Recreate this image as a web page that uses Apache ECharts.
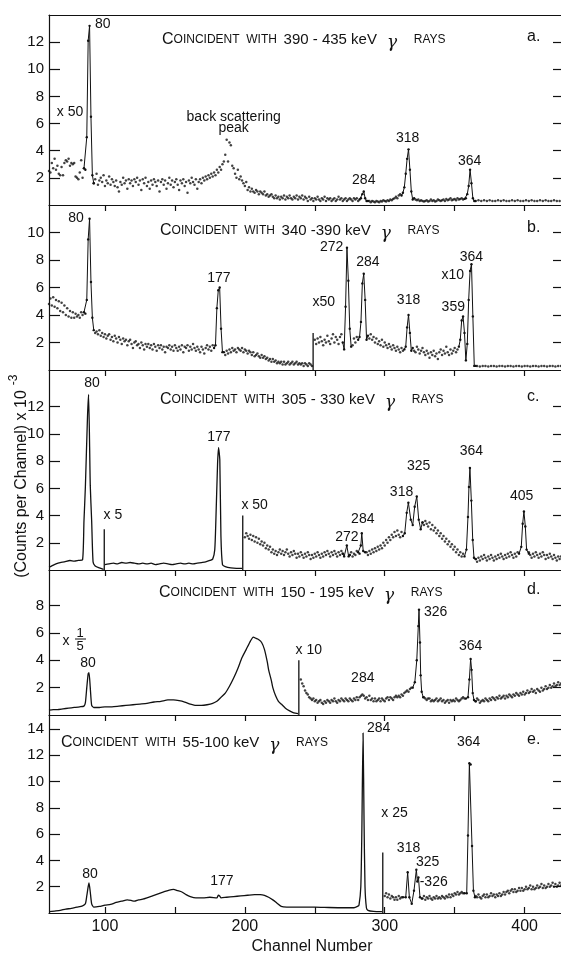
<!DOCTYPE html>
<html>
<head lang="en">
    <meta charset="UTF-8">
    <title></title>
    <script src="https://cdn.jsdelivr.net/npm/echarts@6/dist/echarts.min.js"></script>
</head>
<body style="margin:0;background:#fff">
<div id="mychart" style="width:561px;height:956px;"></div>
<script>
// channel axis
var xTicks = [100, 150, 200, 250, 300, 350, 400];
var xLabels = [100, 200, 300, 400];

// ---- panel a : 390-435 keV gate ----
var aBg = [[60,2.5],[61,2.4],[62,3.1],[63,2.7],[64,3.4],[65,2.6],[66,2.9],[67,2.3],[68,2.2],[69,2.8],[70,2.2],[71,3.1],[72,3.3],[73,3.2],[74,3.4],[75,2.9],[76,3.1],[77,3.0],[78,3.1],[79,2.1],[80,2.0],[81,1.9],[82,2.4],[83,3.3],[84,2.0],[85,2.7],
[92,1.6],[93,1.9],[94,2.3],[95,1.5],[96,1.8],[97,2.0],[98,1.7],[99,2.2],[100,1.4],[101,1.8],[102,1.6],[103,2.1],[104,1.5],[105,1.9],[106,1.7],[107,1.4],[108,1.8],[109,1.3],[110,1.0],[111,1.7],[112,1.5],[113,2.0],[114,1.6],[115,1.8],[116,1.2],[117,1.9],[118,1.6],[119,1.8],[120,1.4],[121,1.9],[122,1.7],[123,2.0],[124,1.5],[125,1.8],[126,1.1],[127,1.9],[128,1.6],[129,2.0],[130,1.4],[131,1.7],[132,1.2],[133,1.8],[134,1.5],[135,1.9],[136,1.7],[137,1.4],[138,1.8],[139,1.0],[140,1.7],[141,1.9],[142,1.5],[143,1.8],[144,1.2],[145,1.6],[146,2.0],[147,1.5],[148,1.8],[149,1.3],[150,1.7],[151,1.9],[152,1.5],[153,1.1],[154,1.8],[155,1.6],[156,1.9],[157,1.4],[158,1.7],[159,0.9],[160,1.8],[161,1.6],[162,2.0],[163,1.7],[164,1.5],[165,1.9],[166,1.2],[167,1.7],[168,1.9],[169,1.6],[170,2.0],[171,1.8],[172,2.1],[173,1.9],[174,2.2],[175,2.0],[176,2.3],[177,2.1],[178,2.4],[179,2.2],[180,2.6],[181,2.4],[182,2.8],[183,2.6],[184,3.0],[185,3.2],[186,3.7],[187,4.8],[188,3.2],[189,4.6],[190,4.4],[191,2.9],[192,2.7],[193,2.3],[194,2.0],[195,2.6],[196,1.9],[197,2.1],[198,1.8],[199,1.6],[200,1.4],[201,1.7],[202,1.1],[203,1.3],[204,1.0],[205,1.2],[206,1.0],[207,0.9],[208,1.1],[209,1.0],[210,0.8],[211,1.0],[212,0.9],[213,0.8],[214,1.0],[215,0.7],[216,0.8],[217,0.6],[218,0.7],[219,0.8],[220,0.6],[221,0.5],[222,0.7],[223,0.5],[224,0.6],[225,0.4],[226,0.6],[227,0.5],[228,0.7],[229,0.4],[230,0.6],[231,0.5],[232,0.7],[233,0.5],[234,0.4],[235,0.6],[236,0.5],[237,0.7],[238,0.4],[239,0.6],[240,0.5],[241,0.7],[242,0.4],[243,0.6],[244,0.5],[245,0.3],[246,0.6],[247,0.4],[248,0.5],[249,0.3],[250,0.5],[251,0.4],[252,0.6],[253,0.4],[254,0.3],[255,0.5],[256,0.4],[257,0.6],[258,0.3],[259,0.5],[260,0.4],[261,0.5],[262,0.3],[263,0.4],[264,0.5],[265,0.3],[266,0.4],[267,0.6],[268,0.4],[269,0.5],[270,0.3],[271,0.4],[272,0.5],[273,0.3],[274,0.4],[275,0.5],[276,0.4],[277,0.3],[278,0.5],[279,0.4],[280,0.5],[281,0.3],
[289,0.3],[290,0.2],[291,0.3],[292,0.25],[293,0.2],[294,0.3],[295,0.25],[296,0.2],[297,0.3],[298,0.25],[299,0.35],[300,0.3],[301,0.25],[302,0.35],[303,0.3],[304,0.4],[305,0.35],[306,0.45],[307,0.5],[308,0.6],[309,0.5],[310,0.7],[311,0.8],
[322,0.4],[323,0.35],[324,0.4],[325,0.3],[326,0.35],[327,0.3],[328,0.25],[329,0.3],[330,0.35],[331,0.25],[332,0.3],[333,0.4],[334,0.3],[335,0.35],[336,0.25],[337,0.3],[338,0.4],[339,0.35],[340,0.3],[341,0.35],[342,0.4],[343,0.3],[344,0.45],[345,0.35],[346,0.4],[347,0.5],[348,0.35],[349,0.4],[350,0.45],[351,0.35],[352,0.5],[353,0.4],[354,0.45],[355,0.5],[356,0.4],
[367,0.35],[369,0.3],[371,0.35],[373,0.3],[375,0.35],[377,0.3],[379,0.3],[381,0.35],[383,0.3],[385,0.35],[387,0.3],[389,0.3],[391,0.35],[393,0.3],[395,0.35],[397,0.3],[399,0.3],[401,0.35],[403,0.3],[405,0.35],[407,0.3],[409,0.3],[411,0.35],[413,0.3],[415,0.35],[417,0.3],[419,0.3],[421,0.35],[423,0.3],[425,0.3]];
var aPk80 = [[85,2.7],[86,2.6],[87,5.0],[88,12.1],[89,13.2],[90,6.5],[91,2.2],[92,1.6]];
var aPk284 = [[282,0.4],[283,0.5],[284,0.8],[285,1.0],[286,0.5],[287,0.3],[288,0.3]];
var aPk318 = [[312,0.7],[313,0.9],[314,1.3],[315,2.3],[316,3.4],[317,4.1],[318,2.6],[319,1.0],[320,0.4],[321,0.5]];
var aPk364 = [[357,0.45],[358,0.5],[359,0.8],[360,1.4],[361,2.6],[362,1.6],[363,0.5],[364,0.3],[365,0.3]];
var aLabels = [[98.5,13.3,'80'],[75,6.85,'x 50'],[192,6.5,'back scattering'],[192,5.65,'peak'],[285,1.85,'284'],[316.4,4.9,'318'],[360.7,3.25,'364']];

// ---- panel b : 340-390 keV gate ----
var bBg = [[60,4.8],[61,5.2],[62,4.7],[63,5.3],[64,4.6],[65,5.1],[66,4.5],[67,5.0],[68,4.3],[69,4.9],[70,4.2],[71,4.7],[72,4.0],[73,4.5],[74,3.9],[75,4.3],[76,3.8],[77,4.2],[78,3.8],[79,4.1],[80,3.9],[81,4.0],[82,3.8],[83,4.2],[84,4.0],
[93,2.7],[94,2.8],[95,2.6],[96,2.9],[97,2.5],[98,2.7],[99,2.4],[100,2.6],[101,2.3],[102,2.5],[103,2.6],[104,2.2],[105,2.4],[106,2.1],[107,2.5],[108,2.3],[109,2.0],[110,2.4],[111,2.2],[112,1.9],[113,2.3],[114,2.1],[115,2.2],[116,1.8],[117,2.1],[118,2.2],[119,1.9],[120,1.6],[121,2.0],[122,2.1],[123,1.8],[124,1.9],[125,1.6],[126,2.0],[127,1.8],[128,1.5],[129,1.9],[130,1.7],[131,1.9],[132,1.6],[133,1.8],[134,1.5],[135,1.9],[136,1.7],[137,1.4],[138,1.8],[139,1.6],[140,1.8],[141,1.5],[142,1.7],[143,1.3],[144,1.7],[145,1.6],[146,1.8],[147,1.5],[148,1.7],[149,1.4],[150,1.8],[151,1.6],[152,1.4],[153,1.7],[154,1.5],[155,1.8],[156,1.3],[157,1.7],[158,1.6],[159,1.8],[160,1.4],[161,1.7],[162,1.5],[163,1.9],[164,1.6],[165,1.4],[166,1.7],[167,1.5],[168,1.3],[169,1.7],[170,1.5],[171,1.2],[172,1.6],[173,1.8],[174,1.5],[175,1.7],[176,1.4],[177,1.8],
[186,1.1],[187,1.4],[188,1.2],[189,1.5],[190,1.3],[191,1.6],[192,1.4],[193,1.5],[194,1.3],[195,1.6],[196,1.5],[197,1.4],[198,1.6],[199,1.3],[200,1.5],[201,1.4],[202,1.2],[203,1.4],[204,1.3],[205,1.1],[206,1.3],[207,1.0],[208,1.1],[209,1.2],[210,1.0],[211,0.9],[212,1.1],[213,0.9],[214,1.0],[215,0.8],[216,0.9],[217,0.7],[218,0.8],[219,0.6],[220,0.8],[221,0.6],[222,0.7],[223,0.5],[224,0.6],[225,0.5],[226,0.6],[227,0.4],[228,0.6],[229,0.4],[230,0.5],[231,0.6],[232,0.4],[233,0.5],[234,0.6],[235,0.4],[236,0.5],[237,0.6],[238,0.4],[239,0.5],[240,0.4],[241,0.5],[242,0.3],[243,0.5],[244,0.4],[245,0.3],[246,0.5],[247,0.4],[248,0.3],
[250,2.2],[251,1.9],[252,2.3],[253,2.0],[254,2.4],[255,2.1],[256,1.8],[257,2.2],[258,2.0],[259,2.5],[260,2.1],[261,1.9],[262,2.3],[263,2.6],[264,2.0],[265,2.4],[266,2.2],[267,1.9],[268,2.4],[269,2.6],
[277,1.8],[278,2.3],[279,2.0],[280,2.4],
[289,2.3],[290,2.6],[291,2.2],[292,2.4],[293,2.0],[294,2.3],[295,1.9],[296,2.1],[297,1.8],[298,2.2],[299,1.7],[300,2.0],[301,1.8],[302,1.6],[303,1.9],[304,1.7],[305,1.5],[306,1.8],[307,1.6],[308,1.4],[309,1.7],[310,1.5],[311,1.3],[312,1.6],[313,1.4],
[321,1.4],[322,1.3],[323,1.7],[324,1.5],[325,1.2],[326,1.4],[327,1.6],[328,1.3],[329,1.1],[330,1.4],[331,1.2],[332,0.9],[333,1.3],[334,1.1],[335,1.4],[336,1.0],[337,1.2],[338,0.8],[339,1.3],[340,1.5],[341,1.1],[342,1.4],[343,1.2],[344,1.7],[345,1.3],[346,1.1],[347,1.5],[348,1.2],[349,1.4],[350,1.6],[351,1.3],[352,1.5],
[366,0.3],[368,0.25],[370,0.3],[372,0.3],[374,0.25],[376,0.3],[378,0.3],[380,0.25],[382,0.3],[384,0.3],[386,0.25],[388,0.3],[390,0.3],[392,0.25],[394,0.3],[396,0.3],[398,0.25],[400,0.3],[402,0.3],[404,0.25],[406,0.3],[408,0.3],[410,0.25],[412,0.3],[414,0.3],[416,0.25],[418,0.3],[420,0.3],[422,0.25],[424,0.3],[426,0.3]];
var bPk80 = [[85,4.2],[86,4.1],[87,5.1],[88,9.5],[89,11.0],[90,6.4],[91,3.8],[92,2.9]];
var bPk177 = [[178,1.6],[179,1.8],[180,4.5],[181,5.8],[182,6.0],[183,3.0],[184,1.3],[185,1.3]];
var bPk272 = [[270,2.0],[271,1.5],[272,4.6],[273,8.9],[274,6.5],[275,3.0],[276,1.7]];
var bPk284 = [[281,2.2],[282,2.4],[283,3.5],[284,6.3],[285,7.0],[286,5.1],[287,2.2],[288,2.5]];
var bPk318 = [[314,1.5],[315,1.7],[316,3.1],[317,4.0],[318,2.7],[319,1.4],[320,1.6]];
var bPk364 = [[353,1.7],[354,2.2],[355,3.6],[356,3.9],[357,2.7],[358,0.7],[359,1.9],[360,5.1],[361,7.2],[362,7.7],[363,3.9],[364,0.3],[365,0.3]];
var bSteps = [[248.8,2.7]];
var bLabels = [[79.3,11.05,'80'],[181.4,6.7,'177'],[262,8.9,'272'],[288,7.85,'284'],[256.4,4.95,'x50'],[317,5.1,'318'],[348.6,6.9,'x10'],[349,4.6,'359'],[362,8.2,'364']];

// ---- panel c : 305-330 keV gate ----
var cLeft = [[60,0.2],[62,0.3],[65,0.45],[68,0.55],[71,0.6],[75,0.7],[78,0.65],[81,0.7],[84,0.75],[85,3.6],[86,6.1],[87.5,11.2],[88.3,12.9],[89.5,6.2],[90.5,3.6],[91.5,0.6],[93,0.3],[96,0.15],[99,0.05]];
var cMid = [[100,0.4],[103,0.45],[106,0.5],[109,0.45],[112,0.55],[115,0.5],[118,0.55],[121,0.5],[124,0.45],[127,0.5],[130,0.45],[133,0.5],[136,0.4],[139,0.45],[142,0.5],[145,0.45],[148,0.4],[151,0.45],[154,0.5],[157,0.45],[160,0.5],[163,0.45],[166,0.5],[169,0.55],[172,0.6],[175,0.7],[177,0.8],[178.5,1.5],[179.3,3.7],[180.5,7.8],[181.2,9.0],[182.1,8.1],[182.9,2.5],[184,0.4],[186,0.25],[190,0.15],[194,0.12],[198,0.12]];
var cBg = [[200,2.4],[201,2.7],[202,2.5],[203,2.3],[204,2.6],[205,2.2],[206,2.5],[207,2.1],[208,2.4],[209,2.0],[210,2.3],[211,1.9],[212,2.1],[213,1.8],[214,2.0],[215,1.6],[216,1.8],[217,1.5],[218,1.7],[219,1.3],[220,1.5],[221,1.2],[222,1.4],[223,1.1],[224,1.3],[225,1.5],[226,1.2],[227,1.4],[228,1.1],[229,1.3],[230,1.5],[231,1.2],[232,1.0],[233,1.3],[234,1.1],[235,1.4],[236,1.2],[237,0.9],[238,1.2],[239,1.0],[240,1.3],[241,1.1],[242,0.9],[243,1.2],[244,1.0],[245,1.3],[246,1.1],[247,0.8],[248,1.1],[249,0.9],[250,1.2],[251,1.0],[252,1.3],[253,1.1],[254,0.9],[255,1.2],[256,1.0],[257,1.3],[258,1.1],[259,1.4],[260,1.2],[261,1.0],[262,1.3],[263,1.1],[264,1.4],[265,1.2],[266,1.0],[267,1.3],[268,1.1],[269,1.4],[270,1.2],
[275,1.1],[276,1.3],[277,1.0],[278,1.2],[279,1.1],[280,1.4],
[287,1.3],[288,1.1],[289,1.4],[290,1.2],[291,1.5],[292,1.3],[293,1.6],[294,1.4],[295,1.7],[296,1.5],[297,1.8],[298,1.6],[299,2.0],[300,1.8],[301,2.2],[302,2.0],[303,2.4],[304,2.2],[305,2.6],[306,2.4],[307,2.8],[308,2.5],[309,2.9],[310,2.6],[311,2.4],[312,2.8],
[327,3.5],[328,3.3],[329,3.6],[330,3.4],[331,3.2],[332,3.5],[333,3.0],[334,3.3],[335,2.9],[336,3.1],[337,2.7],[338,2.9],[339,2.5],[340,2.7],[341,2.3],[342,2.5],[343,2.1],[344,2.3],[345,1.9],[346,2.1],[347,1.7],[348,1.9],[349,1.5],[350,1.7],[351,1.3],[352,1.5],[353,1.1],[354,1.3],[355,1.0],[356,1.2],
[365,0.8],[366,0.6],[367,0.9],[368,0.7],[369,1.0],[370,0.8],[371,1.1],[372,0.9],[373,0.7],[374,1.0],[375,0.8],[376,1.1],[377,0.9],[378,0.7],[379,1.0],[380,0.8],[381,1.1],[382,0.9],[383,1.2],[384,1.0],[385,0.8],[386,1.1],[387,0.9],[388,1.2],[389,1.0],[390,1.3],[391,1.1],[392,0.9],[393,1.2],[394,1.0],[395,1.3],
[403,1.3],[404,1.1],[405,0.9],[406,1.2],[407,1.0],[408,1.3],[409,1.1],[410,0.9],[411,1.2],[412,1.0],[413,1.3],[414,1.1],[415,0.8],[416,1.1],[417,0.9],[418,1.2],[419,1.0],[420,0.8],[421,1.1],[422,0.9],[423,0.7],[424,1.0],[425,0.8],[426,1.0]];
var cPk272 = [[270,1.2],[271,1.0],[272.9,1.8],[274.2,1.0],[275,1.1]];
var cPk284 = [[281,1.3],[282,1.2],[282.9,1.8],[283.6,2.7],[284.6,1.4],[286,1.3]];
var cPk318 = [[313,2.5],[314.3,2.7],[315.7,4.2],[316.9,4.95],[318.6,3.7],[320,3.3],[321.4,4.65],[322.9,5.4],[324.3,3.7],[325.7,3.0],[327,3.5]];
var cPk364 = [[357,1.0],[358.4,1.5],[359.5,3.9],[360.2,6.1],[360.9,7.5],[361.9,5.1],[362.9,2.2],[363.8,0.9],[365,0.8]];
var cPk405 = [[396,1.2],[397.6,1.7],[398.6,3.4],[399.5,4.3],[400.5,3.2],[401.4,1.5],[403,1.2]];
var cSteps = [[99.5,3.0],[198.5,4.0]];
var cLabels = [[90.7,13.7,'80'],[105.7,4.0,'x 5'],[181.4,9.8,'177'],[207,4.8,'x 50'],[273,2.4,'272'],[284.3,3.75,'284'],[312,5.7,'318'],[324.3,7.65,'325'],[362,8.75,'364'],[397.9,5.4,'405']];

// ---- panel d : 150-195 keV gate ----
var dLeft = [[60,0.35],[63,0.4],[66,0.4],[70,0.45],[74,0.5],[78,0.55],[82,0.6],[85,0.65],[86,0.9],[87,2.0],[88,3.0],[88.6,3.1],[89.5,2.0],[90.5,0.7],[92,0.55],[96,0.55],[100,0.6],[105,0.6],[110,0.65],[115,0.7],[120,0.75],[125,0.8],[130,0.85],[135,0.95],[140,1.0],[145,1.1],[149,1.1],[153,1.05],[157,0.95],[161,0.8],[165,0.7],[169,0.7],[173,0.75],[177,0.85],[180,1.0],[183,1.3],[186,1.6],[189,2.1],[192,2.7],[195,3.4],[198,4.2],[201,4.8],[204,5.4],[206,5.7],[208,5.6],[210,5.5],[212,5.3],[214,4.8],[216,3.9],[217,3.3],[219,2.5],[220,2.0],[222,1.4],[224,1.0],[226,0.8],[229,0.5],[232,0.3],[235,0.15],[238,0.1]];
var dBg = [[240,2.6],[241,2.3],[242,2.1],[243,1.8],[244,1.6],[245,1.5],[246,1.3],[247,1.2],[248,1.1],[249,1.2],[250,1.0],[251,1.1],[252,0.9],[253,1.0],[254,1.1],[255,0.9],[256,0.8],[257,1.0],[258,0.9],[259,1.1],[260,1.0],[261,0.9],[262,1.1],[263,1.0],[264,1.2],[265,1.0],[266,0.9],[267,1.1],[268,1.0],[269,1.2],[270,1.1],[271,1.0],[272,1.2],[273,1.1],[274,1.0],[275,1.2],[276,1.1],[277,1.0],[278,1.2],[279,1.1],[280,1.3],[281,1.1],[282,1.3],[283,1.4],[284,1.5],[285,1.4],[286,1.2],[287,1.3],[288,1.1],[289,1.4],[290,1.1],[291,1.2],[292,1.0],[293,1.2],[294,1.0],[295,1.1],[296,1.2],[297,1.0],[298,1.2],[299,1.1],[300,1.0],[301,1.2],[302,1.3],[303,1.1],[304,1.3],[305,1.2],[306,1.1],[307,1.3],[308,1.4],[309,1.3],[310,1.4],[311,1.3],[312,1.5],[313,1.4],[314,1.6],[315,1.7],[316,1.8],[317,1.7],[318,1.9],[319,2.0],
[328,1.3],[329,1.2],[330,1.1],[331,1.2],[332,1.2],[333,1.0],[334,1.1],[335,1.0],[336,1.1],[337,1.2],[338,1.0],[339,1.1],[340,1.2],[341,1.0],[342,1.1],[343,0.9],[344,1.0],[345,1.1],[346,0.9],[347,1.1],[348,1.0],[349,1.1],[350,1.0],[351,1.2],[352,1.1],[353,1.0],[354,1.1],[355,1.2],[356,1.3],[357,1.2],
[365,1.0],[366,1.2],[367,1.1],[368,0.9],[369,1.0],[370,1.1],[371,1.0],[372,1.2],[373,1.1],[374,1.0],[375,1.2],[376,1.1],[377,1.3],[378,1.2],[379,1.1],[380,1.3],[381,1.2],[382,1.4],[383,1.2],[384,1.3],[385,1.4],[386,1.2],[387,1.4],[388,1.3],[389,1.5],[390,1.4],[391,1.3],[392,1.5],[393,1.4],[394,1.6],[395,1.5],[396,1.4],[397,1.6],[398,1.5],[399,1.7],[400,1.5],[401,1.6],[402,1.8],[403,1.6],[404,1.7],[405,1.9],[406,1.7],[407,1.8],[408,1.6],[409,1.9],[410,1.8],[411,1.7],[412,2.0],[413,1.8],[414,1.9],[415,2.1],[416,1.9],[417,2.0],[418,2.2],[419,2.0],[420,2.1],[421,2.3],[422,2.1],[423,2.2],[424,2.4],[425,2.2],[426,2.3]];
var dPk326 = [[320,2.0],[321.5,2.4],[322.9,4.0],[324,6.5],[324.5,7.7],[325.2,5.3],[325.7,2.9],[326.4,1.7],[327.5,1.3]];
var dPk364 = [[358,1.2],[359.5,1.3],[360.5,2.6],[361.4,4.1],[362.1,3.3],[362.9,1.6],[363.8,1.1],[365,1.0]];
var dSteps = [[238.6,4.0]];
var dLabels = [[87.9,3.8,'80'],[245.7,4.75,'x 10'],[284.3,2.7,'284'],[336.4,7.5,'326'],[361.4,5.0,'364']];

// ---- panel e : 55-100 keV gate ----
var eLeft = [[60,0.1],[64,0.15],[68,0.2],[72,0.3],[76,0.35],[80,0.45],[84,0.55],[86,0.7],[87,1.3],[88,2.0],[88.6,2.3],[89.5,1.6],[90.5,0.7],[92,0.45],[96,0.5],[100,0.6],[104,0.65],[108,0.8],[112,0.9],[116,1.0],[119,0.95],[121,0.9],[124,1.0],[127,1.05],[130,1.15],[134,1.3],[138,1.45],[142,1.6],[146,1.75],[149,1.8],[152,1.7],[155,1.6],[158,1.4],[161,1.25],[165,1.15],[170,1.15],[175,1.2],[180,1.15],[181,1.35],[182,1.3],[183,1.15],[187,1.2],[192,1.25],[197,1.3],[202,1.35],[207,1.4],[211,1.4],[214,1.35],[217,1.2],[220,1.0],[223,0.75],[226,0.5],[230,0.45],[240,0.45],[250,0.45],[260,0.42],[270,0.4],[278,0.4],[280.5,0.5],[281.6,0.6],[282.9,2.0],[283.6,5.9],[284.5,13.7],[285.2,7.1],[285.9,2.0],[286.9,0.4],[288,0.2],[292,0.12],[298,0.1]];
var eBg = [[300,1.3],[301,1.5],[302,1.2],[303,1.4],[304,1.1],[305,1.3],[306,1.2],[307,1.0],[308,1.2],[309,1.0],[310,1.3],[311,1.1],[312,1.2],
[327,1.1],[328,1.3],[329,1.0],[330,1.2],[331,1.1],[332,1.3],[333,1.1],[334,1.0],[335,1.2],[336,1.1],[337,1.3],[338,1.1],[339,1.2],[340,1.1],[341,1.3],[342,1.2],[343,1.1],[344,1.3],[345,1.2],[346,1.4],[347,1.2],[348,1.4],[349,1.3],[350,1.5],[351,1.4],[352,1.6],[353,1.4],[354,1.5],[355,1.6],[356,1.5],
[365,1.3],[366,1.2],[367,1.4],[368,1.2],[369,1.1],[370,1.3],[371,1.4],[372,1.2],[373,1.4],[374,1.2],[375,1.3],[376,1.5],[377,1.3],[378,1.4],[379,1.2],[380,1.4],[381,1.3],[382,1.5],[383,1.3],[384,1.4],[385,1.6],[386,1.4],[387,1.6],[388,1.7],[389,1.5],[390,1.7],[391,1.8],[392,1.6],[393,1.8],[394,1.6],[395,1.7],[396,1.9],[397,1.7],[398,1.9],[399,1.7],[400,1.8],[401,2.0],[402,1.8],[403,1.9],[404,2.1],[405,1.8],[406,2.0],[407,1.8],[408,1.9],[409,2.1],[410,1.9],[411,2.0],[412,2.2],[413,1.9],[414,2.1],[415,1.9],[416,2.0],[417,2.2],[418,2.0],[419,2.1],[420,2.3],[421,2.0],[422,2.2],[423,2.0],[424,2.1],[425,2.3],[426,2.1]];
var ePk318 = [[313,1.2],[315,1.2],[316.4,3.1],[317.6,1.2],[319.3,0.7],[320.9,1.7],[322.6,3.3],[323.3,2.4],[324.1,2.7],[325.2,1.2],[326.5,1.1]];
var ePk364 = [[357,1.5],[358.6,1.5],[359.5,5.9],[360.5,11.4],[361.4,11.3],[362.4,5.1],[363.4,1.7],[364.5,1.2]];
var eSteps = [[298.6,4.6]];
var eLabels = [[89.3,2.95,'80'],[183.6,2.4,'177'],[295.7,14.1,'284'],[360,13.0,'364'],[307,7.6,'x 25'],[317,4.9,'318'],[330.7,3.9,'325'],[335,2.35,'-326']];

var gates = ['390 - 435 keV', '340 -390 keV', '305 - 330 keV', '150 - 195 keV', '55-100 keV'];
var tags = ['a.', 'b.', 'c.', 'd.', 'e.'];

var font = 'Liberation Sans';
var ink = '#111';

var panels = [
    {top: 15,  height: 190, yMax: 14,   yTicks: [2,4,6,8,10,12],    bg: aBg, lines: [], peaks: [aPk80, aPk284, aPk318, aPk364], steps: [], labels: aLabels, title: [162, 38]},
    {top: 205, height: 165, yMax: 12,   yTicks: [2,4,6,8,10],       bg: bBg, lines: [], peaks: [bPk80, bPk177, bPk272, bPk284, bPk318, bPk364], steps: bSteps, labels: bLabels, title: [160, 229]},
    {top: 370, height: 200, yMax: 14.7, yTicks: [2,4,6,8,10,12],    bg: cBg, lines: [cLeft, cMid], peaks: [cPk272, cPk284, cPk318, cPk364, cPk405], steps: cSteps, labels: cLabels, title: [160, 398]},
    {top: 570, height: 145, yMax: 10.6, yTicks: [2,4,6,8],          bg: dBg, lines: [dLeft], peaks: [dPk326, dPk364], steps: dSteps, labels: dLabels, title: [159, 591]},
    {top: 715, height: 205, yMax: 15.07,yTicks: [2,4,6,8,10,12,14], bg: eBg, lines: [eLeft], peaks: [ePk318, ePk364], steps: eSteps, labels: eLabels, title: [61, 741]}
];

var myChart = echarts.init(document.getElementById('mychart'));

var grids = [], xAxes = [], yAxes = [], yAxesR = [], series = [], titles = [];
panels.forEach(function (p, i) {
    grids.push({left: 49, right: 0, top: p.top, height: p.height});
    xAxes.push({
        type: 'value', gridIndex: i, min: 60, max: 426,
        axisLine: {onZero: false, lineStyle: {color: ink, width: 1.2}},
        axisTick: {inside: i === 4, length: 6, customValues: xTicks, lineStyle: {color: ink, width: 1.2}},
        axisLabel: {show: i === 4, customValues: xLabels, color: ink, fontSize: 16, fontFamily: font, margin: 6},
        splitLine: {show: false},
        name: i === 4 ? 'Channel Number' : '',
        nameLocation: 'middle', nameGap: 26,
        nameTextStyle: {color: ink, fontSize: 16, fontFamily: font, padding: [0, 0, 0, 14]}
    });
    yAxes.push({
        type: 'value', gridIndex: i, min: 0, max: p.yMax,
        axisLine: {show: true, onZero: false, lineStyle: {color: ink, width: 1.2}},
        axisTick: {inside: true, length: 11, customValues: p.yTicks, lineStyle: {color: ink, width: 1.2}},
        axisLabel: {customValues: p.yTicks, color: ink, fontSize: 15, fontFamily: font, margin: 5},
        splitLine: {show: false}
    });
    yAxesR.push({
        type: 'value', gridIndex: i, min: 0, max: p.yMax, position: 'right',
        axisLine: {show: false},
        axisTick: {inside: true, length: 8, customValues: p.yTicks, lineStyle: {color: ink, width: 1.2}},
        axisLabel: {show: false},
        splitLine: {show: false}
    });

    series.push({
        type: 'scatter', xAxisIndex: i, yAxisIndex: i, data: p.bg,
        symbolSize: 2.5, itemStyle: {color: ink}, silent: true
    });
    p.lines.forEach(function (d) {
        series.push({
            type: 'line', xAxisIndex: i, yAxisIndex: i, data: d, showSymbol: false,
            smooth: 0.2, lineStyle: {color: ink, width: 1.3}, silent: true
        });
    });
    p.peaks.forEach(function (d) {
        series.push({
            type: 'line', xAxisIndex: i, yAxisIndex: i, data: d,
            symbol: 'circle', symbolSize: 2.4, showSymbol: true,
            itemStyle: {color: ink}, lineStyle: {color: ink, width: 1}, silent: true
        });
    });
    p.steps.forEach(function (s) {
        series.push({
            type: 'line', xAxisIndex: i, yAxisIndex: i, data: [[s[0], 0], [s[0], s[1]]],
            showSymbol: false, lineStyle: {color: ink, width: 1.3}, silent: true
        });
    });
    series.push({
        type: 'scatter', xAxisIndex: i, yAxisIndex: i, data: p.labels,
        symbolSize: 1, itemStyle: {color: 'rgba(0,0,0,0)'}, silent: true,
        label: {
            show: true, position: 'inside', color: ink, fontFamily: font,
            fontSize: 14, opacity: 1, textBorderWidth: 0,
            formatter: function (q) { return q.data[2]; }
        }
    });

    var rich = {
        c: {fontSize: 16, fontFamily: font, color: ink, fontWeight: 'normal'},
        s: {fontSize: 12, fontFamily: font, color: ink, fontWeight: 'normal'},
        n: {fontSize: 15, fontFamily: font, color: ink, fontWeight: 'normal'},
        g: {fontSize: 17, fontFamily: 'DejaVu Serif', fontStyle: 'italic', fontWeight: 'normal', color: ink, padding: [6, 0, 0, 0]}
    };
    titles.push({
        text: '{c|C}{s|OINCIDENT  WITH}  {n|' + gates[i] + '}   {g|γ}     {s|RAYS}',
        left: p.title[0], top: p.title[1] - 10, padding: 0,
        textStyle: {fontSize: 12, fontFamily: font, color: ink, fontWeight: 'normal', rich: rich}
    });
    titles.push({
        text: tags[i], left: 527, top: p.title[1] - 9, padding: 0,
        textStyle: {fontSize: 16, fontFamily: font, color: ink, fontWeight: 'normal'}
    });
});
// frame line on top of panel a
xAxes.push({
    type: 'value', gridIndex: 0, min: 60, max: 426, position: 'top',
    axisLine: {onZero: false, lineStyle: {color: ink, width: 1.2}},
    axisTick: {show: false}, axisLabel: {show: false}, splitLine: {show: false}
});

var option = {
    animation: false,
    backgroundColor: '#fff',
    title: titles,
    grid: grids,
    xAxis: xAxes,
    yAxis: yAxes.concat(yAxesR),
    series: series,
    graphic: [
        {type: 'text', x: 22, y: 484, rotation: Math.PI / 2,
            style: {text: '(Counts per Channel) x 10', fill: ink, font: '16px "Liberation Sans"', align: 'center', verticalAlign: 'middle'}},
        {type: 'text', x: 14, y: 380, rotation: Math.PI / 2,
            style: {text: '-3', fill: ink, font: '12px "Liberation Sans"', align: 'center', verticalAlign: 'middle'}},
        // x 1/5 scale note in panel d
        {type: 'text', x: 66, y: 641,
            style: {text: 'x', fill: ink, font: '14px "Liberation Sans"', align: 'center', verticalAlign: 'middle'}},
        {type: 'text', x: 80, y: 633,
            style: {text: '1', fill: ink, font: '13px "Liberation Sans"', align: 'center', verticalAlign: 'middle'}},
        {type: 'line', shape: {x1: 75, y1: 639, x2: 86, y2: 639}, style: {stroke: ink, lineWidth: 1}},
        {type: 'text', x: 80, y: 646,
            style: {text: '5', fill: ink, font: '13px "Liberation Sans"', align: 'center', verticalAlign: 'middle'}}
    ]
};
myChart.setOption(option);
</script>
</body>
</html>
